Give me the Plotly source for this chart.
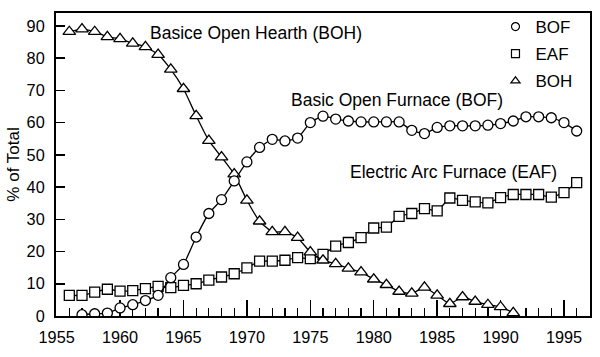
import plotly.graph_objects as go

# ---- data ----
bof_years = list(range(1957, 1997))
bof_vals = [0.4, 0.7, 0.9, 2.5, 3.5, 4.8, 6.4, 11.9, 16.0, 24.5,
            31.8, 36.1, 41.9, 47.8, 52.3, 54.8, 54.3, 55.2, 60.0, 62.0,
            61.1, 60.5, 60.2, 60.2, 60.2, 60.2, 57.6, 56.6, 58.5, 59.0,
            59.0, 59.0, 59.2, 59.7, 60.5, 61.8, 61.8, 61.5, 60.0, 57.4]

eaf_years = list(range(1956, 1997))
eaf_vals = [6.4, 6.4, 7.4, 8.3, 7.7, 7.9, 8.5, 9.2, 8.8, 9.5,
            10.0, 11.1, 12.1, 13.1, 14.9, 17.0, 17.0, 17.3, 18.1, 17.8,
            19.1, 21.7, 22.8, 24.3, 27.3, 27.6, 30.9, 31.8, 33.3, 32.6,
            36.6, 35.9, 35.4, 35.1, 36.7, 37.7, 37.7, 37.7, 36.9, 38.3,
            41.4]

boh_years = list(range(1956, 1992))
boh_vals = [88.2, 89.0, 88.2, 86.6, 86.0, 84.6, 83.5, 81.1, 76.5, 70.5,
            62.1, 54.4, 49.3, 44.0, 35.9, 29.4, 26.1, 26.1, 24.3, 19.8,
            17.3, 16.2, 14.8, 13.6, 11.4, 9.7, 7.6, 7.0, 8.9, 6.4,
            3.8, 5.9, 4.5, 3.5, 2.8, 1.0]

series = [
    ("EAF", eaf_years, eaf_vals, "square"),
    ("BOH", boh_years, boh_vals, "triangle-up"),
    ("BOF", bof_years, bof_vals, "circle"),
]

labels = [
    ("Basice Open Hearth (BOH)", 1970.75, 87.9),
    ("Basic Open Furnace (BOF)", 1981.8, 67.1),
    ("Electric Arc Furnace (EAF)", 1986.3, 44.75),
]

x_ticks = [1955, 1960, 1965, 1970, 1975, 1980, 1985, 1990, 1995]
y_ticks = [0, 10, 20, 30, 40, 50, 60, 70, 80, 90]

FONT = "Liberation Sans, Arial, sans-serif"

fig = go.Figure()
for name, xs, ys, sym in series:
    fig.add_trace(go.Scatter(
        x=xs, y=ys, mode="lines+markers", name=name, showlegend=False,
        line=dict(color="black", width=1.3, shape="spline", smoothing=0.5),
        marker=dict(symbol=sym, size=10 if sym != "triangle-up" else 11,
                    color="white", line=dict(color="black", width=1.3)),
        cliponaxis=True,
    ))

# legend-only entries (markers without lines)
for name, sym in [("BOF", "circle"), ("EAF", "square"), ("BOH", "triangle-up")]:
    fig.add_trace(go.Scatter(
        x=[None], y=[None], mode="markers", name=name, legendgroup=name,
        marker=dict(symbol=sym, size=8, color="white", line=dict(color="black", width=1.2)),
    ))

for text, xv, yv in labels:
    fig.add_annotation(x=xv, y=yv, xref="x", yref="y", text=text, showarrow=False,
                       xanchor="center", yanchor="middle",
                       font=dict(family=FONT, size=17.5, color="black"))

fig.update_layout(
    width=600, height=357,
    margin=dict(l=56, r=10, t=13, b=41, autoexpand=False),
    paper_bgcolor="white", plot_bgcolor="white",
    font=dict(family=FONT, size=16, color="black"),
    legend=dict(x=0.823, y=1.013, xanchor="left", yanchor="top",
                bgcolor="rgba(0,0,0,0)", borderwidth=0,
                font=dict(family=FONT, size=17, color="black"),
                traceorder="grouped", tracegroupgap=2, itemwidth=30),
    showlegend=True,
)

fig.update_xaxes(
    range=[1954.95, 1997.05], tickmode="array", tickvals=x_ticks, ticks="inside", ticklen=16,
    tickwidth=1.5, tickcolor="black", showline=True, linewidth=2, linecolor="black",
    mirror=True, showgrid=False, zeroline=False, ticklabelstandoff=5, automargin=False,
    tickfont=dict(family=FONT, size=16.3, color="black"), layer="below traces",
    minor=dict(dtick=1, tick0=1955, ticks="inside", ticklen=8, tickwidth=1.3, tickcolor="black", showgrid=False),
)
fig.update_yaxes(
    range=[0, 94], tickmode="array", tickvals=y_ticks, ticks="inside", ticklen=9,
    tickwidth=1.5, tickcolor="black", showline=True, linewidth=2, linecolor="black",
    mirror=True, showgrid=False, zeroline=False, ticklabelstandoff=6, automargin=False,
    tickfont=dict(family=FONT, size=16.3, color="black"), layer="below traces",
    title=dict(text="% of Total", font=dict(family=FONT, size=17, color="black"), standoff=3),
)

fig.write_html("out.html", config={"displayModeBar": False, "staticPlot": True},
               post_script="document.body.style.margin='0';")
